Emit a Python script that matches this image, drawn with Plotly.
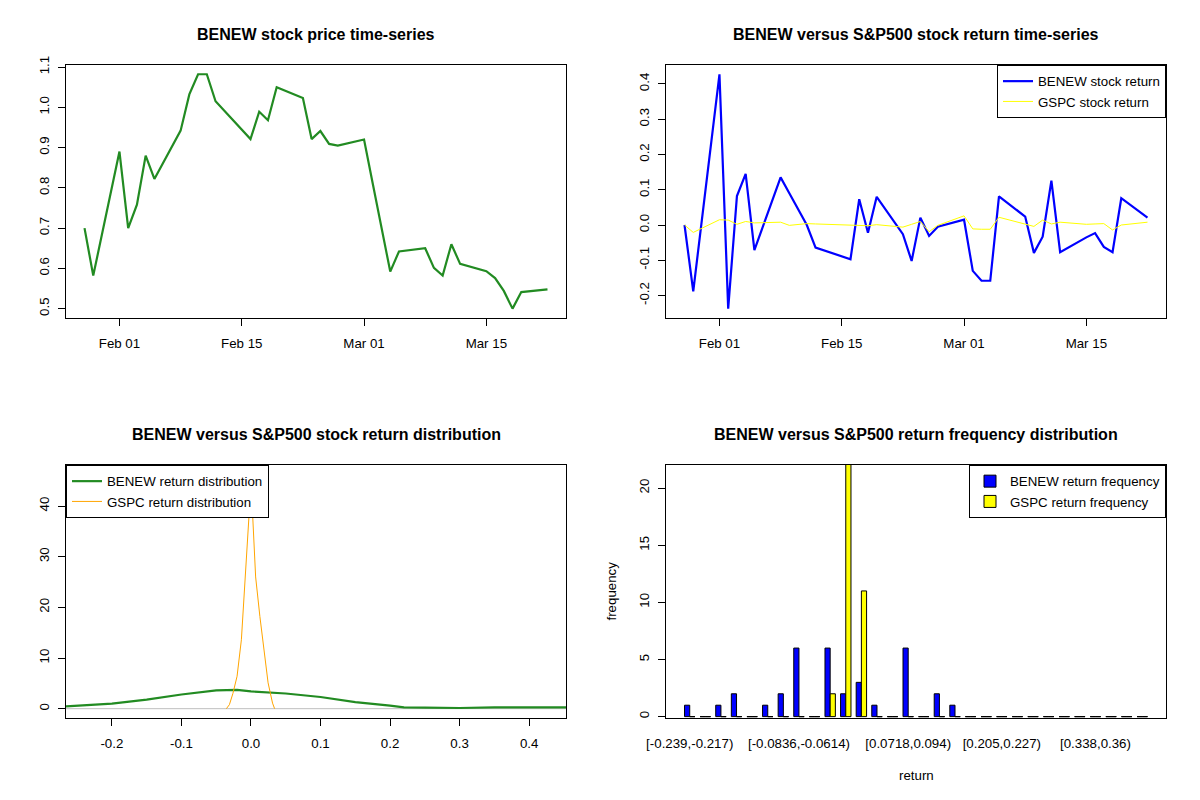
import plotly.graph_objects as go
import pandas as pd

# =========================
# 0. DATA
# =========================
DATES = ["2010-01-28", "2010-01-29", "2010-02-01", "2010-02-02", "2010-02-03", "2010-02-04",
         "2010-02-05", "2010-02-08", "2010-02-09", "2010-02-10", "2010-02-11", "2010-02-12",
         "2010-02-16", "2010-02-17", "2010-02-18", "2010-02-19", "2010-02-22", "2010-02-23",
         "2010-02-24", "2010-02-25", "2010-02-26", "2010-03-01", "2010-03-02", "2010-03-03",
         "2010-03-04", "2010-03-05", "2010-03-08", "2010-03-09", "2010-03-10", "2010-03-11",
         "2010-03-12", "2010-03-15", "2010-03-16", "2010-03-17", "2010-03-18", "2010-03-19",
         "2010-03-22"]

BENEW_PRICE = [0.700, 0.582, 0.890, 0.700, 0.758, 0.880, 0.822, 0.942, 1.032, 1.082, 1.082, 1.015,
               0.921, 0.989, 0.968, 1.050, 1.023, 0.921, 0.941, 0.909, 0.905, 0.920, 0.810, 0.700,
               0.592, 0.642, 0.650, 0.601, 0.582, 0.660, 0.611, 0.593, 0.576, 0.544, 0.500, 0.541,
               0.548]

BENEW_RET = [0.000, -0.188, 0.427, -0.237, 0.082, 0.145, -0.071, 0.135, 0.090, 0.047, 0.000, -0.064,
             -0.097, 0.073, -0.022, 0.080, -0.026, -0.102, 0.021, -0.031, -0.005, 0.015, -0.130, -0.158,
             -0.158, 0.081, 0.024, -0.079, -0.033, 0.126, -0.077, -0.035, -0.023, -0.062, -0.077, 0.076,
             0.021]

GSPC_RET = [0.000, -0.021, 0.015, 0.014, 0.002, 0.010, 0.006, 0.008, -0.001, 0.002, 0.004, 0.003,
            0.001, -0.001, -0.002, 0.001, -0.006, 0.002, 0.010, -0.019, -0.001, 0.026, -0.011, -0.012,
            -0.012, 0.022, 0.003, -0.004, 0.014, 0.003, 0.008, 0.002, 0.003, 0.004, -0.014, 0.000,
            0.008]

# density curves
BENEW_DENS_X = [-0.266, -0.2, -0.15, -0.1, -0.05, -0.02, 0.0, 0.05, 0.1, 0.15, 0.2, 0.22, 0.25,
                0.3, 0.35, 0.4, 0.453]
BENEW_DENS_Y = [0.46, 1.0, 1.8, 2.8, 3.6, 3.7, 3.4, 3.0, 2.3, 1.3, 0.6, 0.26, 0.2,
                0.13, 0.26, 0.26, 0.26]
GSPC_DENS_X = [-0.0354, -0.031, -0.026, -0.020, -0.0138, -0.0087, -0.0051, -0.0026, 0.0, 0.0026,
               0.0067, 0.0128, 0.0185, 0.0246, 0.031, 0.034]
GSPC_DENS_Y = [0.0, 0.8, 3.0, 6.4, 13.6, 24.8, 31.4, 38.6, 45.0, 38.6,
               26.0, 18.2, 11.6, 5.1, 1.1, 0.0]

# frequency table
BIN_LABELS = ["[-0.239,-0.217)", "[-0.217,-0.195)", "[-0.195,-0.172)", "[-0.172,-0.15)",
              "[-0.15,-0.128)", "[-0.128,-0.106)", "[-0.106,-0.0836)", "[-0.0836,-0.0614)",
              "[-0.0614,-0.0392)", "[-0.0392,-0.017)", "[-0.017,0.0052)", "[0.0052,0.0274)",
              "[0.0274,0.0496)", "[0.0496,0.0718)", "[0.0718,0.094)", "[0.094,0.116)",
              "[0.116,0.138)", "[0.138,0.161)", "[0.161,0.183)", "[0.183,0.205)",
              "[0.205,0.227)", "[0.227,0.249)", "[0.249,0.272)", "[0.272,0.294)",
              "[0.294,0.316)", "[0.316,0.338)", "[0.338,0.36)", "[0.36,0.382)",
              "[0.382,0.405)", "[0.405,0.427)"]
BENEW_FREQ = [1, 0, 1, 2, 0, 1, 2, 6, 0, 6, 2, 3, 1, 0, 6, 0, 2, 1,
              0, 0, 0, 0, 0, 0, 0, 0, 0, 0, 0, 0]
GSPC_FREQ = [0, 0, 0, 0, 0, 0, 0, 0, 0, 2, 23, 11, 0, 0, 0, 0, 0, 0,
             0, 0, 0, 0, 0, 0, 0, 0, 0, 0, 0, 0]
SHOWN_BINS = [0, 7, 14, 20, 26]

# tick labels (R prints a plain hyphen for negatives)
DATE_TICKS = ["2010-02-01", "2010-02-15", "2010-03-01", "2010-03-15"]
RET_TICKS = [-0.2, -0.1, 0.0, 0.1, 0.2, 0.3, 0.4]
RET_TICKTEXT = ["-0.2", "-0.1", "0.0", "0.1", "0.2", "0.3", "0.4"]

# =========================
# 1. STYLE / LAYOUT
# =========================
FONT = "Liberation Sans"
FS = 13.3
OFF = 8                      # page body margin the figure sits inside
W, H = 1200 - OFF, 800 - OFF
# plot boxes in page pixels (left, right, top, bottom)
BOX = {1: (66, 566, 65, 318), 2: (666, 1166, 65, 318),
       3: (66, 566, 465, 718), 4: (666, 1166, 465, 718)}


def px(x):
    return (x - OFF) / W


def py(y):
    return 1 - (y - OFF) / H


def xdom(k):
    return [px(BOX[k][0]), px(BOX[k][1])]


def ydom(k):
    return [py(BOX[k][3]), py(BOX[k][2])]


def axis_style(**kw):
    d = dict(showline=True, mirror=True, linecolor="black", linewidth=1,
             ticks="outside", ticklen=7, tickcolor="black", tickwidth=1,
             showgrid=False, zeroline=False,
             tickfont=dict(family=FONT, size=FS, color="black"))
    d.update(kw)
    return d


dates = pd.to_datetime(DATES)
span = dates.max() - dates.min()
date_range = [dates.min() - 0.04 * span, dates.max() + 0.04 * span]

fig = go.Figure()

# 2. price time series
fig.add_trace(go.Scatter(x=dates, y=BENEW_PRICE, mode="lines", xaxis="x", yaxis="y",
                         line=dict(color="#228B22", width=2.2), showlegend=False))

# 3. returns
fig.add_trace(go.Scatter(x=dates, y=BENEW_RET, mode="lines", xaxis="x2", yaxis="y2",
                         line=dict(color="#0000FF", width=2.2), name="BENEW stock return",
                         legend="legend"))
fig.add_trace(go.Scatter(x=dates, y=GSPC_RET, mode="lines", xaxis="x2", yaxis="y2",
                         line=dict(color="#FFFF00", width=1), name="GSPC stock return",
                         legend="legend"))

# 4. densities
fig.add_shape(type="line", xref="x3 domain", yref="y3", x0=0, x1=1, y0=0, y1=0,
              line=dict(color="#BEBEBE", width=1), layer="below")
fig.add_trace(go.Scatter(x=BENEW_DENS_X, y=BENEW_DENS_Y, mode="lines", xaxis="x3", yaxis="y3",
                         line=dict(color="#228B22", width=2.2), name="BENEW return distribution",
                         legend="legend2"))
fig.add_trace(go.Scatter(x=GSPC_DENS_X, y=GSPC_DENS_Y, mode="lines", xaxis="x3", yaxis="y3",
                         line=dict(color="#FFA500", width=1), name="GSPC return distribution",
                         legend="legend2"))

# 5. frequency bars
idx = list(range(len(BIN_LABELS)))
fig.add_trace(go.Bar(x=idx, y=BENEW_FREQ, xaxis="x4", yaxis="y4", offsetgroup="a",
                     marker=dict(color="#0000FF", line=dict(color="black", width=1)),
                     name="BENEW return frequency", legend="legend3"))
fig.add_trace(go.Bar(x=idx, y=GSPC_FREQ, xaxis="x4", yaxis="y4", offsetgroup="b",
                     marker=dict(color="#FFFF00", line=dict(color="black", width=1)),
                     name="GSPC return frequency", legend="legend3"))

# zero-height bars are drawn by R as flat dashes on the baseline
zx, zy = [], []
for i in idx:
    if BENEW_FREQ[i] == 0:
        zx += [i - 1 / 3, i, None]
        zy += [0, 0, None]
    if GSPC_FREQ[i] == 0:
        zx += [i, i + 1 / 3, None]
        zy += [0, 0, None]
fig.add_trace(go.Scatter(x=zx, y=zy, mode="lines", xaxis="x4", yaxis="y4",
                         line=dict(color="black", width=1), showlegend=False, hoverinfo="skip"))

# 6. titles and axis labels
titles = {1: "BENEW stock price time-series",
          2: "BENEW versus S&P500 stock return time-series",
          3: "BENEW versus S&P500 stock return distribution",
          4: "BENEW versus S&P500 return frequency distribution"}
annotations = []
for k, t in titles.items():
    l, r, top, _ = BOX[k]
    annotations.append(dict(text=f"<b>{t}</b>", x=px((l + r) / 2), y=py(top - 31),
                            xref="paper", yref="paper", showarrow=False,
                            xanchor="center", yanchor="middle",
                            font=dict(family=FONT, size=16, color="black")))
annotations.append(dict(text="frequency", x=px(611), y=py(591.5), xref="paper", yref="paper",
                        textangle=-90, showarrow=False, xanchor="center", yanchor="middle",
                        font=dict(family=FONT, size=FS, color="black")))
annotations.append(dict(text="return", x=px(916), y=py(775), xref="paper", yref="paper",
                        showarrow=False, xanchor="center", yanchor="middle",
                        font=dict(family=FONT, size=FS, color="black")))

legend_common = dict(bgcolor="white", bordercolor="black", borderwidth=1,
                     font=dict(family=FONT, size=FS, color="black"),
                     tracegroupgap=0, itemclick=False)

fig.update_layout(
    width=W, height=H,
    margin=dict(l=0, r=0, t=0, b=0, autoexpand=False),
    paper_bgcolor="white", plot_bgcolor="white",
    barmode="group", bargap=1 / 3, bargroupgap=0,
    annotations=annotations,
    xaxis=axis_style(domain=xdom(1), anchor="y", type="date", range=date_range,
                     tickvals=DATE_TICKS, tickformat="%b %d", ticklabelstandoff=6),
    yaxis=axis_style(domain=ydom(1), anchor="x", range=[0.4767, 1.105], dtick=0.1,
                     tickformat=".1f", tickangle=-90, ticklabelstandoff=4),
    xaxis2=axis_style(domain=xdom(2), anchor="y2", type="date", range=date_range,
                      tickvals=DATE_TICKS, tickformat="%b %d", ticklabelstandoff=6),
    yaxis2=axis_style(domain=ydom(2), anchor="x2", range=[-0.2636, 0.4536],
                      tickvals=RET_TICKS, ticktext=RET_TICKTEXT,
                      tickangle=-90, ticklabelstandoff=4),
    xaxis3=axis_style(domain=xdom(3), anchor="y3", range=[-0.266, 0.453],
                      tickvals=RET_TICKS, ticktext=RET_TICKTEXT, ticklabelstandoff=6),
    yaxis3=axis_style(domain=ydom(3), anchor="x3", range=[-1.84, 48.1], dtick=10,
                      tickangle=-90, ticklabelstandoff=4),
    xaxis4=axis_style(domain=xdom(4), anchor="y4", range=[-1.52, 30.52], ticks="",
                      tickvals=SHOWN_BINS, ticktext=[BIN_LABELS[i] for i in SHOWN_BINS],
                      ticklabelstandoff=13),
    yaxis4=axis_style(domain=ydom(4), anchor="x4", range=[-0.12, 22.02], dtick=5,
                      tickangle=-90, ticklabelstandoff=4),
    legend=dict(x=px(BOX[2][1]), y=py(BOX[2][2]), xanchor="right", yanchor="top",
                **legend_common),
    legend2=dict(x=px(BOX[3][0]), y=py(BOX[3][2]), xanchor="left", yanchor="top",
                 **legend_common),
    legend3=dict(x=px(BOX[4][1]), y=py(BOX[4][2]), xanchor="right", yanchor="top",
                 **legend_common),
)

fig.write_html("out.html")
